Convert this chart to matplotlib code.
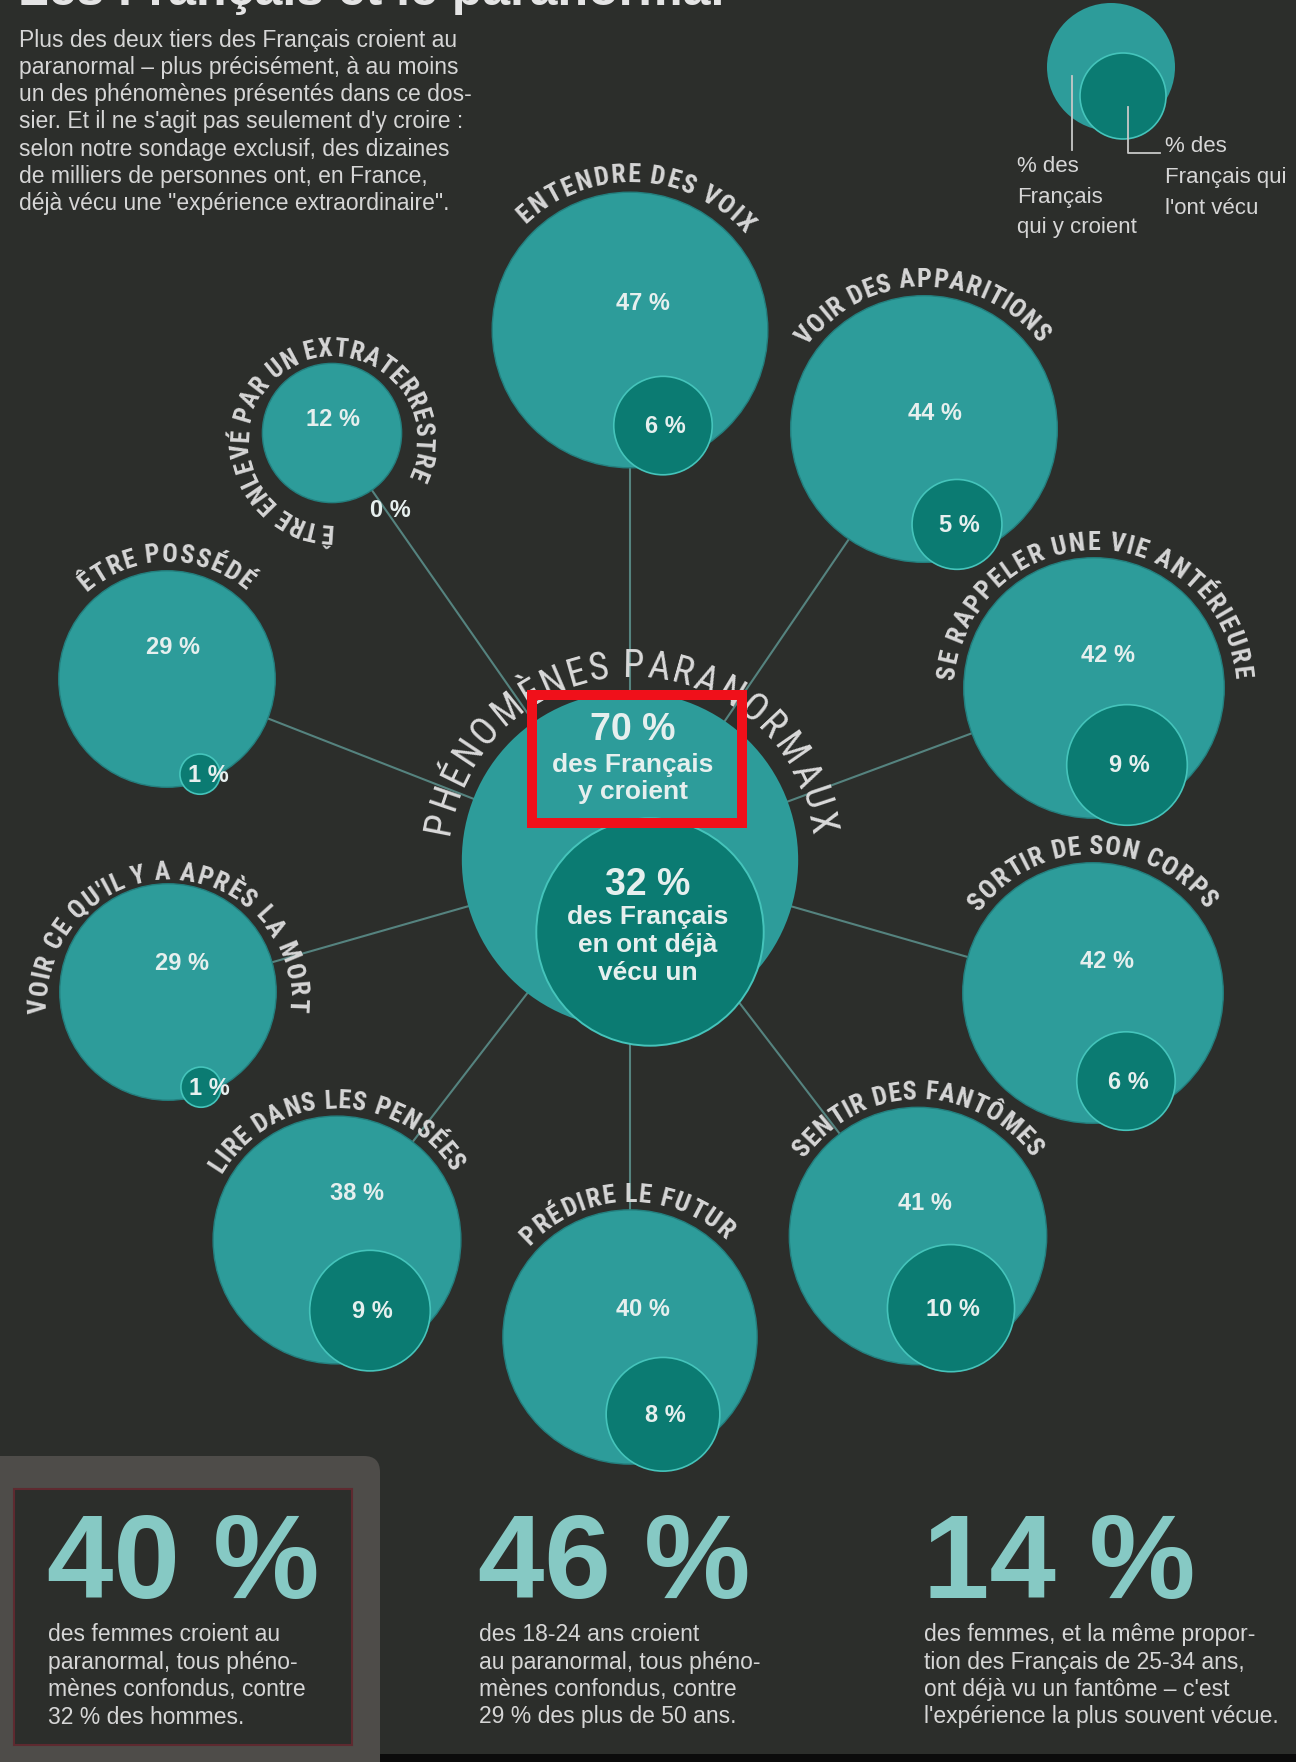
import numpy as np
import matplotlib
matplotlib.use('Agg')
import matplotlib.pyplot as plt
from matplotlib.patches import Circle, Rectangle, FancyBboxPatch
from matplotlib import font_manager as fm
from matplotlib.font_manager import FontProperties
from matplotlib.textpath import TextToPath

# ---- data ----
title = "Les Français et le paranormal"
intro_lines = [
    "Plus des deux tiers des Français croient au",
    "paranormal – plus précisément, à au moins",
    "un des phénomènes présentés dans ce dos-",
    "sier. Et il ne s'agit pas seulement d'y croire :",
    "selon notre sondage exclusif, des dizaines",
    "de milliers de personnes ont, en France,",
    "déjà vécu une \"expérience extraordinaire\".",
]
phenomena = ["ENTENDRE DES VOIX", "VOIR DES APPARITIONS", "SE RAPPELER UNE VIE ANTÉRIEURE",
             "SORTIR DE SON CORPS", "SENTIR DES FANTÔMES", "PRÉDIRE LE FUTUR",
             "LIRE DANS LES PENSÉES", "VOIR CE QU'IL Y A APRÈS LA MORT", "ÊTRE POSSÉDÉ",
             "ÊTRE ENLEVÉ PAR UN EXTRATERRESTRE"]
believe = [47, 44, 42, 42, 41, 40, 38, 29, 29, 12]
lived = [6, 5, 9, 6, 10, 8, 9, 1, 1, 0]
total_believe = 70
total_lived = 32
center_title = "PHÉNOMÈNES PARANORMAUX"
center_believe_txt = ["des Français", "y croient"]
center_lived_txt = ["des Français", "en ont déjà", "vécu un"]
legend_big_txt = ["% des", "Français", "qui y croient"]
legend_small_txt = ["% des", "Français qui", "l'ont vécu"]
stat_values = [40, 46, 14]
stat_texts = [
    ["des femmes croient au", "paranormal, tous phéno-", "mènes confondus, contre", "32 % des hommes."],
    ["des 18-24 ans croient", "au paranormal, tous phéno-", "mènes confondus, contre", "29 % des plus de 50 ans."],
    ["des femmes, et la même propor-", "tion des Français de 25-34 ans,", "ont déjà vu un fantôme – c'est",
     "l'expérience la plus souvent vécue."],
]

# ---- layout (pixels, y down) ----
W, H = 1296, 1762
K = 20.1  # circle radius = K * sqrt(percent)
hub = (630, 860)
hub_inner_off = (20, 72)
centers = [(630, 330), (924, 429), (1094, 688), (1093, 993), (918, 1236),
           (630, 1337), (337, 1240), (168, 992), (167, 679), (332, 433)]
# arc labels: start angle, end angle, gap above circle, arc centre shift (y)
arcs = [(131, 44, 14, 4), (141, 40, 11, 2), (173, 7, 10, 2), (141, 40, 11, 2), (142, 38, 10, 2),
        (134, 49, 10, 2), (147, 34, 10, 2), (182, -2, 13, 9), (129, 52, 11, 2), (266, -22, 14, 7)]
pct_off = [(13, -27), (11, -15), (14, -33), (14, -31), (7, -33), (13, -27), (20, -47), (14, -29),
           (6, -32), (1, -13)]
inner_lbl_dx = [2, 2, 2, 2, 2, 2, 2, 8, 8, 25]

BG = '#2c2e2b'
TEAL = '#2d9c9a'
DARK = '#0b7b72'
RIM = '#45c4bb'
LINE = '#55837f'
LABEL = '#d6d6d6'
WHITE = '#e6efee'
STAT = '#86c9c4'

# fonts: prefer a condensed face for the curved labels
fams = {}
for f in fm.fontManager.ttflist:
    fams.setdefault(f.name, set()).add(f.stretch)
SANS = 'Liberation Sans' if 'Liberation Sans' in fams else 'DejaVu Sans'
NARROW, NSTRETCH = SANS, 'normal'
for n in ['Liberation Sans Narrow', 'Roboto Condensed', 'Noto Sans Condensed',
          'Open Sans Condensed', 'DejaVu Sans Condensed', 'Arial Narrow']:
    if n in fams:
        NARROW = n
        break
else:
    for n in ['Roboto', 'Noto Sans', 'Open Sans', 'DejaVu Sans']:
        st = fams.get(n, set())
        hit = [s for s in ('condensed', 'semi-condensed') if s in st]
        if hit:
            NARROW, NSTRETCH = n, hit[0]
            break

fig = plt.figure(figsize=(W / 100, H / 100), dpi=100, facecolor=BG)
ax = fig.add_axes([0, 0, 1, 1])
ax.set_xlim(0, W)
ax.set_ylim(H, 0)
ax.axis('off')
ax.set_facecolor(BG)

t2p = TextToPath()


def adv(ch, fp):
    w = lambda s: t2p.get_text_width_height_descent(s, fp, False)[0]
    return w('n' + ch + 'n') - w('nn')


def arc_text(s, cx, cy, R, a0, a1, size, weight, color, track=1.04):
    fp = FontProperties(family=NARROW, stretch=NSTRETCH, weight=weight, size=size)
    ws = np.array([adv(c, fp) for c in s])
    mids = np.cumsum(ws) - ws / 2
    natural = (mids[-1] - mids[0]) * 100 / 72
    L = R * np.radians(abs(a1 - a0))
    size = min(size, size * L / (natural * track))
    frac = (mids - mids[0]) / (mids[-1] - mids[0])
    for c, f in zip(s, frac):
        if c == ' ':
            continue
        th = np.radians(a0 + (a1 - a0) * f)
        ax.text(cx + R * np.cos(th), cy - R * np.sin(th), c, rotation=np.degrees(th) - 90,
                rotation_mode='anchor', ha='center', va='baseline', fontsize=size,
                fontweight=weight, fontstretch=NSTRETCH, color=color, family=NARROW, zorder=6)


# title (cut at the top edge) and intro
ax.text(18, 5, title, fontsize=36, fontweight='bold', color='#e4e4e4', family=SANS, va='baseline')
for i, line in enumerate(intro_lines):
    ax.text(19, 40 + i * 27.3, line, fontsize=16.5, color=LABEL, family=SANS, va='center')

# legend
ax.add_patch(Circle((1111, 67), 64, fc=TEAL, ec='none', zorder=2))
ax.add_patch(Circle((1123, 96), 43, fc=DARK, ec=RIM, lw=1.2, zorder=3))
ax.plot([1072, 1072], [76, 150], color='#c8c8c8', lw=1.3, zorder=4)
ax.plot([1128, 1128, 1160], [107, 153, 153], color='#c8c8c8', lw=1.3, zorder=4)
for i, line in enumerate(legend_big_txt):
    ax.text(1017, 166 + i * 31, line, fontsize=16, color=LABEL, family=SANS, va='center')
for i, line in enumerate(legend_small_txt):
    ax.text(1165, 147 + i * 30.5, line, fontsize=16, color=LABEL, family=SANS, va='center')

# spokes
hx, hy = hub
for (x, y) in centers:
    ax.plot([hx, x], [hy, y], color=LINE, lw=1.5, zorder=1)

# outer circles
for i, (x, y) in enumerate(centers):
    R = K * np.sqrt(believe[i])
    r = K * np.sqrt(lived[i])
    ax.add_patch(Circle((x, y), R, fc=TEAL, ec='#237f7e', lw=1.0, zorder=2))
    ix, iy = x + 33, y + R - r + 7
    if r > 0:
        ax.add_patch(Circle((ix, iy), r, fc=DARK, ec=RIM, lw=1.2, zorder=3))
    dx, dy = pct_off[i]
    ax.text(x + dx, y + dy, f"{believe[i]} %", fontsize=17, fontweight='bold', color=WHITE,
            family=SANS, ha='center', va='center', zorder=5)
    ax.text(ix + inner_lbl_dx[i], iy + 1, f"{lived[i]} %", fontsize=17, fontweight='bold',
            color=WHITE, family=SANS, ha='center', va='center', zorder=5)
    a0, a1, gap, sh = arcs[i]
    arc_text(phenomena[i], x, y + sh, R + gap, a0, a1, 18.8, 'bold', LABEL)

# hub
RB = K * np.sqrt(total_believe)
rl = K * np.sqrt(total_lived)
ax.add_patch(Circle(hub, RB, fc=TEAL, ec='none', zorder=2))
lx, ly = hx + hub_inner_off[0], hy + hub_inner_off[1]
ax.add_patch(Circle((lx, ly), rl, fc=DARK, ec=RIM, lw=1.4, zorder=3))
arc_text(center_title, hx, hy, 183, 169, 11, 27.5, 'normal', '#dadada', track=1.02)
ax.text(633, 730, f"{total_believe} %", fontsize=27, fontweight='bold', color=WHITE, family=SANS,
        ha='center', va='center', zorder=5)
for i, line in enumerate(center_believe_txt):
    ax.text(633, 765 + i * 27, line, fontsize=19, fontweight='bold', color=WHITE, family=SANS,
            ha='center', va='center', zorder=5)
ax.text(648, 885, f"{total_lived} %", fontsize=27, fontweight='bold', color=WHITE, family=SANS,
        ha='center', va='center', zorder=5)
for i, line in enumerate(center_lived_txt):
    ax.text(648, 917 + i * 28, line, fontsize=19, fontweight='bold', color=WHITE, family=SANS,
            ha='center', va='center', zorder=5)
ax.add_patch(Rectangle((532, 695), 210, 128, fill=False, ec='#f0101a', lw=7.2, zorder=8))

# bottom section
ax.add_patch(FancyBboxPatch((-30, 1456), 410, 340, boxstyle="round,pad=0,rounding_size=16",
                            fc='#4e4c49', ec='none', zorder=1))
ax.add_patch(Rectangle((14, 1489), 338, 256, fc=BG, ec='#5e2a30', lw=1.5, zorder=2))
ax.add_patch(Rectangle((380, 1754), W - 380, 12, fc='#0b0b0b', ec='none', zorder=2))
stat_x = [47, 478, 923]
for i, v in enumerate(stat_values):
    ax.text(stat_x[i], 1598, f"{v} %", fontsize=86, fontweight='bold', color=STAT, family=SANS,
            va='baseline', zorder=4)
    for j, line in enumerate(stat_texts[i]):
        ax.text(stat_x[i] + 1, 1641 + j * 27.5, line, fontsize=16.5, color=LABEL, family=SANS,
                va='baseline', zorder=4)

fig.savefig('out.png', dpi=100, facecolor=BG)
